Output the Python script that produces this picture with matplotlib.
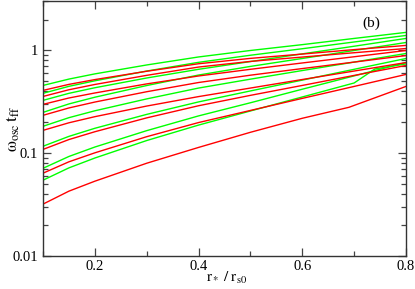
import numpy as np
import matplotlib
matplotlib.use("Agg")
import matplotlib.pyplot as plt
from matplotlib.ticker import FixedLocator, LogLocator, NullFormatter, FuncFormatter, MultipleLocator

plt.rcParams['font.family'] = ['Liberation Serif', 'DejaVu Serif']
plt.rcParams['mathtext.fontset'] = 'stix'

# r_* / r_s0 sample points
r = [0.1, 0.15, 0.2, 0.3, 0.4, 0.5, 0.6, 0.7, 0.8]
r_g8 = [0.1, 0.15, 0.2, 0.3, 0.4, 0.5, 0.6, 0.7, 0.74, 0.8]
r_r8 = [0.1, 0.15, 0.2, 0.3, 0.4, 0.5, 0.6, 0.69, 0.8]

# green curves (top to bottom at r = 0.1)
g1 = [0.457, 0.527, 0.592, 0.723, 0.865, 1.0, 1.14, 1.31, 1.50]
g2 = [0.383, 0.448, 0.507, 0.631, 0.767, 0.899, 1.04, 1.21, 1.40]
g3 = [0.327, 0.383, 0.434, 0.540, 0.656, 0.780, 0.927, 1.10, 1.31]
g4 = [0.250, 0.302, 0.351, 0.456, 0.577, 0.700, 0.836, 1.0, 1.196]
g5 = [0.183, 0.222, 0.259, 0.338, 0.431, 0.526, 0.638, 0.771, 0.935]
g6 = [0.117, 0.146, 0.175, 0.239, 0.316, 0.404, 0.515, 0.656, 0.836]
g7 = [0.0714, 0.0931, 0.115, 0.166, 0.231, 0.310, 0.420, 0.566, 0.763]
g8 = [0.0547, 0.0721, 0.0899, 0.133, 0.188, 0.258, 0.353, 0.483, 0.661, 0.740]

# red curves
r1 = [0.409, 0.468, 0.521, 0.628, 0.743, 0.838, 0.923, 1.02, 1.12]
r2 = [0.357, 0.415, 0.467, 0.573, 0.690, 0.783, 0.863, 0.951, 1.045]
r3 = [0.299, 0.345, 0.386, 0.473, 0.565, 0.656, 0.756, 0.869, 1.0]
r4 = [0.234, 0.276, 0.315, 0.397, 0.488, 0.575, 0.667, 0.771, 0.893]
r5 = [0.167, 0.198, 0.227, 0.288, 0.356, 0.431, 0.522, 0.631, 0.763]
r6 = [0.109, 0.136, 0.162, 0.221, 0.290, 0.366, 0.457, 0.572, 0.715]
r7 = [0.064, 0.0826, 0.101, 0.145, 0.199, 0.261, 0.342, 0.447, 0.585]
r8 = [0.032, 0.0428, 0.0535, 0.080, 0.114, 0.160, 0.219, 0.280, 0.447]

green = [(r, g1), (r, g2), (r, g3), (r, g4), (r, g5), (r, g6), (r, g7), (r_g8, g8)]
red = [(r, r1), (r, r2), (r, r3), (r, r4), (r, r5), (r, r6), (r, r7), (r_r8, r8)]

fig = plt.figure(figsize=(4.15, 2.89), dpi=100)
ax = fig.add_axes([0.1036, 0.114, 0.8747, 0.881])

for xs, ys in green:
    ax.plot(xs, ys, color='#00ff00', lw=1.0)
for xs, ys in red:
    ax.plot(xs, ys, color='#ff0000', lw=1.0)

ax.set_yscale('log')
ax.set_xlim(0.1, 0.8)
ax.set_ylim(0.01, 3.0)

ax.xaxis.set_major_locator(FixedLocator([0.2, 0.4, 0.6, 0.8]))
ax.xaxis.set_minor_locator(MultipleLocator(0.1))
ax.xaxis.set_major_formatter(FuncFormatter(lambda v, p: '{:g}'.format(round(v, 2))))
ax.yaxis.set_major_locator(FixedLocator([0.01, 0.1, 1]))
ax.yaxis.set_minor_locator(LogLocator(base=10, subs=np.arange(2, 10)))
ax.yaxis.set_major_formatter(FuncFormatter(lambda v, p: '{:g}'.format(v)))
ax.yaxis.set_minor_formatter(NullFormatter())

ax.tick_params(which='both', direction='in', top=True, right=True, labelsize=10.5, width=0.9, color='#444444')
ax.tick_params(which='major', length=6)
ax.tick_params(which='minor', length=3.5)
ax.tick_params(axis='x', pad=2.5)
for s in ax.spines.values():
    s.set_linewidth(1.0)
    s.set_color('#333333')

ax.set_xlabel(r'$\mathrm{r_*\;/\;r_{s0}}$', fontsize=11, va='center')
ax.xaxis.set_label_coords(0.505, -0.085)
ax.set_ylabel(r'$\mathrm{\omega_{osc}\,t_{ff}}$', fontsize=12.5, va='center')
ax.yaxis.set_label_coords(-0.083, 0.5)
ax.text(0.905, 0.915, '(b)', transform=ax.transAxes, ha='center', va='center', fontsize=11)

fig.savefig('out.png', dpi=100)
